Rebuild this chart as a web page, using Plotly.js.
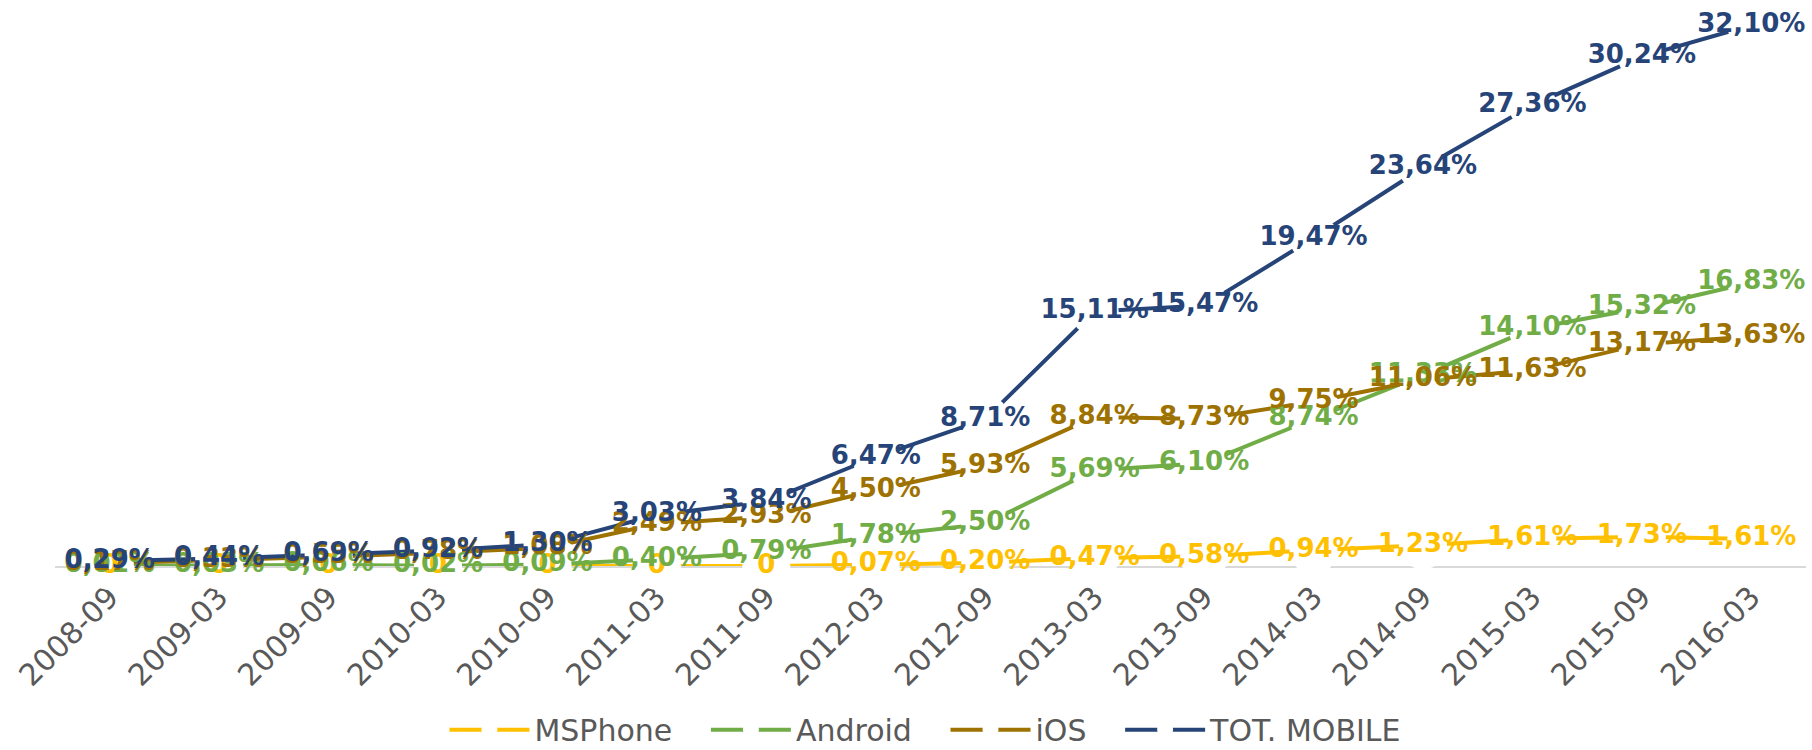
<!DOCTYPE html>
<html>
<head>
<meta charset="utf-8">
<script src="https://cdn.plot.ly/plotly-3.0.1.min.js"></script>
<style>html,body{margin:0;padding:0;background:#fff;}#chart{width:1812px;height:750px;}</style>
</head>
<body>
<div id="chart"></div>
<script>
const categories = ["2008-09","2009-03","2009-09","2010-03","2010-09","2011-03","2011-09","2012-03","2012-09","2013-03","2013-09","2014-03","2014-09","2015-03","2015-09","2016-03"];
const msphone = [0, 0, 0, 0, 0, 0, 0, 0.07, 0.20, 0.47, 0.58, 0.94, 1.23, 1.61, 1.73, 1.61];
const android = [0.01, 0.03, 0.06, 0.02, 0.09, 0.40, 0.79, 1.78, 2.50, 5.69, 6.10, 8.74, 11.33, 14.10, 15.32, 16.83];
const ios = [0.17, 0.33, 0.55, 0.78, 1.08, 2.49, 2.93, 4.50, 5.93, 8.84, 8.73, 9.75, 11.06, 11.63, 13.17, 13.63];
const totMobile = [0.29, 0.44, 0.69, 0.92, 1.30, 3.03, 3.84, 6.47, 8.71, 15.11, 15.47, 19.47, 23.64, 27.36, 30.24, 32.10];

const seriesNames = ["MSPhone", "Android", "iOS", "TOT. MOBILE"];
const seriesValues = [msphone, android, ios, totMobile];
const seriesColors = ["#FFC000", "#70AD47", "#9E7200", "#264478"];

function fmt(v) {
  return v === 0 ? "0" : v.toFixed(2).replace(".", ",") + "%";
}

const pad = "\u00a0\u00a0\u00a0";
const traces = [];
seriesValues.forEach((vals, i) => {
  traces.push({
    type: "scatter",
    mode: "lines+markers",
    name: seriesNames[i] + (i < seriesNames.length - 1 ? pad : ""),
    x: categories,
    y: vals,
    line: { color: seriesColors[i], width: 4 },
    marker: { color: "#ffffff", size: 48, symbol: "circle", line: { width: 0 } },
    cliponaxis: false,
    hoverinfo: "skip"
  });
});
seriesValues.forEach((vals, i) => {
  traces.push({
    type: "scatter",
    mode: "text",
    showlegend: false,
    x: categories,
    y: vals,
    text: vals.map(fmt),
    textposition: "middle center",
    textfont: { family: "DejaVu Sans", size: 26, color: seriesColors[i], weight: "bold" },
    cliponaxis: false,
    hoverinfo: "skip"
  });
});

const layout = {
  width: 1812,
  height: 750,
  margin: { l: 55, r: 6, t: 0, b: 184 },
  paper_bgcolor: "#ffffff",
  plot_bgcolor: "#ffffff",
  showlegend: true,
  xaxis: {
    type: "category",
    range: [-0.5, 15.5],
    autorange: false,
    automargin: false,
    showgrid: false,
    zeroline: false,
    showline: true,
    linecolor: "#d9d9d9",
    linewidth: 1.5,
    layer: "below traces",
    ticks: "",
    ticklen: 0,
    tickangle: -45,
    tickfont: { family: "DejaVu Sans", size: 30, color: "#595959" },
    fixedrange: true
  },
  yaxis: {
    range: [0, 33.6],
    autorange: false,
    automargin: false,
    visible: false,
    showgrid: false,
    zeroline: false,
    fixedrange: true
  },
  legend: {
    orientation: "h",
    xref: "container",
    yref: "container",
    x: 0.511,
    xanchor: "center",
    y: 0.027,
    yanchor: "middle",
    font: { family: "DejaVu Sans", size: 30, color: "#595959" },
    itemwidth: 80,
    bgcolor: "rgba(0,0,0,0)"
  }
};

Plotly.newPlot("chart", traces, layout, { displayModeBar: false, staticPlot: true });
</script>
</body>
</html>
